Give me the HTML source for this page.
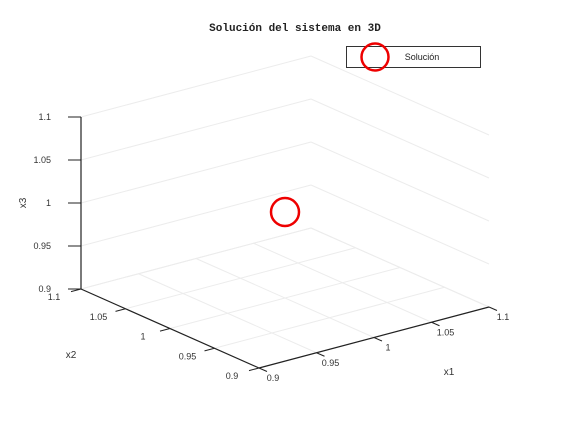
<!DOCTYPE html>
<html><head><meta charset="utf-8"><style>
body{margin:0;background:#fff;}
svg{display:block;font-family:"Liberation Sans",sans-serif;}
</style></head><body>
<svg id="chart" width="564" height="432" viewBox="0 0 564 432" xmlns="http://www.w3.org/2000/svg">
<rect width="564" height="432" fill="#fff"/>
<text x="295" y="31" text-anchor="middle" font-family="Liberation Mono, monospace" font-weight="bold" font-size="11" fill="#222">Solución del sistema en 3D</text>
<g id="grid"></g>
<g id="axes"></g>
<g id="marks"></g>
<g>
<rect x="346.5" y="46.5" width="134" height="21" fill="#fff" stroke="#333" stroke-width="1"/>
<circle cx="375" cy="57" r="13.5" fill="none" stroke="#ee0000" stroke-width="2.5"/>
<text x="422" y="60" text-anchor="middle" font-size="9" fill="#222">Solución</text>
</g>
<text x="449" y="375" text-anchor="middle" font-size="10" fill="#333">x1</text>
<text x="71" y="358" text-anchor="middle" font-size="10" fill="#333">x2</text>
<text x="26" y="203" text-anchor="middle" font-size="10" fill="#333" transform="rotate(-90 26 203)">x3</text>
</svg>
<script>
const x1Ticks=[0.9,0.95,1,1.05,1.1];
const x2Ticks=[0.9,0.95,1,1.05,1.1];
const x3Ticks=[0.9,0.95,1,1.05,1.1];
const x1Labels=["0.9","0.95","1","1.05","1.1"];
const x2Labels=["0.9","0.95","1","1.05","1.1"];
const x3Labels=["0.9","0.95","1","1.05","1.1"];
const solX1=[1];
const solX2=[1];
const solX3=[1];
const NS="http://www.w3.org/2000/svg";
const O={x:259,y:368};
function proj(a,b,c){
  const u=(a-0.9)/0.05,v=(b-0.9)/0.05,w=(c-0.9)/0.05;
  return {x:O.x+u*57.5-v*44.5, y:O.y-u*15.25-v*19.75-w*43};
}
function line(g,p,q,color,sw,name){
  const l=document.createElementNS(NS,'line');
  l.setAttribute('x1',p.x);l.setAttribute('y1',p.y);l.setAttribute('x2',q.x);l.setAttribute('y2',q.y);
  l.setAttribute('stroke',color);l.setAttribute('stroke-width',sw);
  
  
  g.appendChild(l);
}
function text(g,x,y,s,anchor,name){
  const t=document.createElementNS(NS,'text');
  t.setAttribute('x',x);t.setAttribute('y',y);t.setAttribute('text-anchor',anchor);
  t.setAttribute('font-size','9');t.setAttribute('fill','#333');t.textContent=s;
  
  
  g.appendChild(t);
}
const grid=document.getElementById('grid'),axes=document.getElementById('axes'),marks=document.getElementById('marks');
const gc="#ececec";
x1Ticks.forEach(a=>line(grid,proj(a,0.9,0.9),proj(a,1.1,0.9),gc,1,'floor-gridline'));
x2Ticks.forEach(b=>line(grid,proj(0.9,b,0.9),proj(1.1,b,0.9),gc,1,'floor-gridline'));
x3Ticks.forEach(c=>{
  line(grid,proj(0.9,1.1,c),proj(1.1,1.1,c),gc,1,'back-wall-gridline');
  line(grid,proj(1.1,1.1,c),proj(1.1,0.9,c),gc,1,'side-wall-gridline');
});
const ac="#222";
line(axes,proj(0.9,0.9,0.9),proj(1.1,0.9,0.9),ac,1.2,'x1-axis');
line(axes,proj(0.9,0.9,0.9),proj(0.9,1.1,0.9),ac,1.2,'x2-axis');
line(axes,proj(0.9,1.1,0.9),proj(0.9,1.1,1.1),ac,1.2,'x3-axis');
x1Ticks.forEach((a,i)=>{
  const p=proj(a,0.9,0.9);
  line(axes,p,{x:p.x+8,y:p.y+3.5},ac,1,'x1-tick');
  text(axes,p.x+14,p.y+13,x1Labels[i],'middle','x1-tick-label');
});
x2Ticks.forEach((b,i)=>{
  const p=proj(0.9,b,0.9);
  line(axes,p,{x:p.x-10,y:p.y+2.6},ac,1,'x2-tick');
  text(axes,p.x-27,p.y+11,x2Labels[i],'middle','x2-tick-label');
});
x3Ticks.forEach((c,i)=>{
  const p=proj(0.9,1.1,c);
  line(axes,p,{x:p.x-13,y:p.y},ac,1,'x3-tick');
  text(axes,p.x-30,p.y+3,x3Labels[i],'end','x3-tick-label');
});
solX1.forEach((a,i)=>{
  const p=proj(a,solX2[i],solX3[i]);
  const c=document.createElementNS(NS,'circle');
  c.setAttribute('cx',p.x);c.setAttribute('cy',p.y);c.setAttribute('r',14);
  c.setAttribute('fill','none');c.setAttribute('stroke','#ee0000');c.setAttribute('stroke-width',2.5);
  
  
  marks.appendChild(c);
});
</script>
</body></html>
